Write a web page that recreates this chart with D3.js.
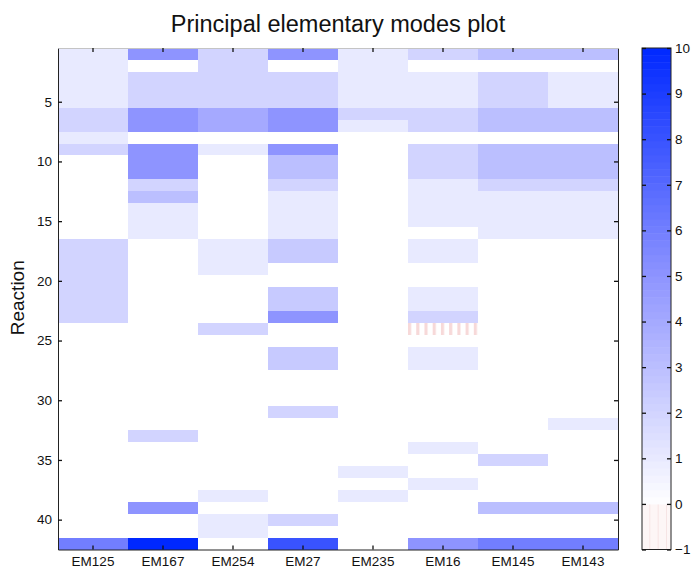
<!DOCTYPE html>
<html>
<head>
<meta charset="utf-8">
<script src="https://cdn.jsdelivr.net/npm/d3@7"></script>
<style>
  body { margin: 0; background: #fff; }
  svg { display: block; font-family: "Liberation Sans", Arial, Helvetica, sans-serif; }
</style>
</head>
<body>
<svg id="chart" width="691" height="568"></svg>
<script>
// Elementary modes (columns) and reactions (rows)
const modes = ["EM125", "EM167", "EM254", "EM27", "EM235", "EM16", "EM145", "EM143"];
const reactions = d3.range(1, 43);

// Per-mode values for reactions 1..42
const em125 = [1,1,1,1,1, 2,2, 1, 2, 0,0,0,0,0,0,0, 2,2,2,2,2,2,2, 0,0,0,0,0,0,0,0,0,0,0,0,0,0,0,0,0,0, 6];
const em167 = [5, 0, 2,2,2, 5,5, 0, 5,5,5, 2, 3, 1,1,1, 0,0,0,0,0,0,0,0,0,0,0,0,0,0,0,0, 2, 0,0,0,0,0, 5, 0,0, 10];
const em254 = [2,2,2,2,2, 4,4, 0, 1, 0,0,0,0,0,0,0, 1,1,1, 0,0,0,0, 2, 0,0,0,0,0,0,0,0,0,0,0,0,0, 1, 0, 1,1, 0];
const em27  = [5, 0, 2,2,2, 5,5, 0, 5, 3,3, 2, 1,1,1,1, 2.5,2.5, 0,0, 2.5,2.5, 5, 0,0, 2.5,2.5, 0,0,0, 2, 0,0,0,0,0,0,0,0, 2, 0, 8];
const em235 = [1,1,1,1,1, 2, 1, 0,0,0,0,0,0,0,0,0,0,0,0,0,0,0,0,0,0,0,0,0,0,0,0,0,0,0,0, 1, 0, 1, 0,0,0,0];
const em16  = [2, 0, 1,1,1, 2,2, 0, 2,2,2, 1,1,1,1, 0, 1,1, 0,0, 1,1, 2, -1, 0, 1,1, 0,0,0,0,0,0, 1, 0,0, 1, 0,0,0,0, 5];
const em145 = [3, 0, 2,2,2, 3,3, 0, 3,3,3, 2, 1,1,1,1, 0,0,0,0,0,0,0,0,0,0,0,0,0,0,0,0,0,0, 2, 0,0,0, 3, 0,0, 6];
const em143 = [3, 0, 1,1,1, 3,3, 0, 3,3,3, 2, 1,1,1,1, 0,0,0,0,0,0,0,0,0,0,0,0,0,0,0, 1, 0,0,0,0,0,0, 3, 0,0, 6];
const modeValues = [em125, em167, em254, em27, em235, em16, em145, em143];

// Axis ticks
const reactionTicks = [5, 10, 15, 20, 25, 30, 35, 40];
const colorTicks = d3.range(-1, 11);
const colorDomain = [-1, 10];

const title = "Principal elementary modes plot";
const yLabel = "Reaction";

const svg = d3.select("#chart");
const plot = { left: 58, right: 618, top: 48, bottom: 549.5 };

const x = d3.scaleBand().domain(modes).range([plot.left, plot.right]).padding(0);
const y = d3.scaleLinear().domain([0.5, reactions.length + 0.5]).range([plot.top, plot.bottom]);

// White -> blue for positive values, pale pink (striped) for negative values
const posColor = d3.scaleLinear()
  .domain([0, 5, 10])
  .range(["#ffffff", "rgb(142,148,255)", "rgb(0,40,255)"])
  .clamp(true);
const negColor = d3.scaleLinear().domain([-1, 0]).range(["#f7d9d9", "#ffffff"]).clamp(true);

const defs = svg.append("defs");
const cellPattern = defs.append("pattern")
  .attr("id", "negCell")
  .attr("patternUnits", "objectBoundingBox")
  .attr("patternContentUnits", "objectBoundingBox")
  .attr("width", 0.1175).attr("height", 1);
cellPattern.append("rect").attr("width", 0.1175).attr("height", 1).attr("fill", "#fff");
cellPattern.append("rect").attr("width", 0.045).attr("height", 1).attr("fill", negColor(-1));

const barPattern = defs.append("pattern")
  .attr("id", "negBar")
  .attr("patternUnits", "userSpaceOnUse")
  .attr("x", 642).attr("width", 8.3).attr("height", 20);
barPattern.append("rect").attr("width", 8.3).attr("height", 20).attr("fill", "#fdf6f6");
barPattern.append("rect").attr("x", 7.6).attr("width", 1.1).attr("height", 20).attr("fill", "#f5dddd");

// Heatmap cells
const cells = [];
modeValues.forEach((vals, i) => {
  vals.forEach((v, j) => cells.push({ mode: modes[i], reaction: reactions[j], value: v }));
});

svg.append("g")
  .selectAll("rect")
  .data(cells)
  .join("rect")
  .attr("x", d => x(d.mode))
  .attr("y", d => y(d.reaction - 0.5))
  .attr("width", x.bandwidth())
  .attr("height", d => y(d.reaction + 0.5) - y(d.reaction - 0.5))
  .attr("fill", d => d.value < 0 ? "url(#negCell)" : posColor(d.value))
  .attr("shape-rendering", "crispEdges");

// Axes
function styleAxis(g, domainColor) {
  g.selectAll(".domain").attr("stroke", domainColor).attr("stroke-width", 1);
  g.selectAll(".tick line").attr("stroke", "#111").attr("stroke-width", 1.3);
  g.selectAll(".tick text").attr("fill", "#111").attr("font-size", 13.5)
    .attr("font-family", "'Liberation Sans', Arial, sans-serif");
}

svg.append("g")
  .attr("transform", `translate(${plot.left},0)`)
  .call(d3.axisLeft(y).tickValues(reactionTicks).tickSizeInner(-4).tickSizeOuter(0).tickPadding(6))
  .call(g => styleAxis(g, "#222"));

svg.append("g")
  .attr("transform", `translate(${plot.right},0)`)
  .call(d3.axisRight(y).tickValues(reactionTicks).tickSizeInner(-4).tickSizeOuter(0).tickFormat(""))
  .call(g => styleAxis(g, "#222"));

svg.append("g")
  .attr("transform", `translate(0,${plot.bottom})`)
  .call(d3.axisBottom(x).tickSizeInner(-4).tickSizeOuter(0).tickPadding(7))
  .call(g => styleAxis(g, "#222"));

svg.append("g")
  .attr("transform", `translate(0,${plot.top})`)
  .call(d3.axisTop(x).tickSizeInner(-4).tickSizeOuter(0).tickFormat(""))
  .call(g => styleAxis(g, "#c4c4c4"));

// Title and axis label
svg.append("text")
  .attr("x", (plot.left + plot.right) / 2)
  .attr("y", 32)
  .attr("text-anchor", "middle")
  .attr("font-size", 23.5)
  .attr("fill", "#111")
  .text(title);

svg.append("text")
  .attr("transform", `translate(24,${(plot.top + plot.bottom) / 2 - 1}) rotate(-90)`)
  .attr("text-anchor", "middle")
  .attr("font-size", 19)
  .attr("fill", "#111")
  .text(yLabel);

// Colour bar
const bar = { left: 642, right: 671 };
const cy = d3.scaleLinear().domain(colorDomain).range([plot.bottom, plot.top]);
const steps = 64;
const stepVals = d3.range(steps).map(k => (k / steps) * colorDomain[1]);
const stepH = (colorDomain[1]) / steps;

const cb = svg.append("g");
cb.append("rect")
  .attr("x", bar.left).attr("width", bar.right - bar.left)
  .attr("y", cy(0)).attr("height", cy(colorDomain[0]) - cy(0))
  .attr("fill", "url(#negBar)");
cb.selectAll("rect.step")
  .data(stepVals)
  .join("rect")
  .attr("class", "step")
  .attr("x", bar.left).attr("width", bar.right - bar.left)
  .attr("y", d => cy(d + stepH))
  .attr("height", d => cy(d) - cy(d + stepH) + 0.5)
  .attr("fill", d => posColor(d + stepH / 2));
cb.append("rect")
  .attr("x", bar.left).attr("width", bar.right - bar.left)
  .attr("y", plot.top).attr("height", plot.bottom - plot.top)
  .attr("fill", "none").attr("stroke", "#222").attr("stroke-width", 1);

svg.append("g")
  .attr("transform", `translate(${bar.right},0)`)
  .call(d3.axisRight(cy).tickValues(colorTicks).tickSizeInner(-4).tickSizeOuter(0).tickPadding(4).tickFormat(d3.format("d")))
  .call(g => styleAxis(g, "none"))
  .call(g => g.selectAll(".tick text").text(d => d < 0 ? "\u22121" : d));

svg.append("g")
  .attr("transform", `translate(${bar.left},0)`)
  .call(d3.axisLeft(cy).tickValues(colorTicks).tickSizeInner(-4).tickSizeOuter(0).tickFormat(""))
  .call(g => styleAxis(g, "none"));
</script>
</body>
</html>
